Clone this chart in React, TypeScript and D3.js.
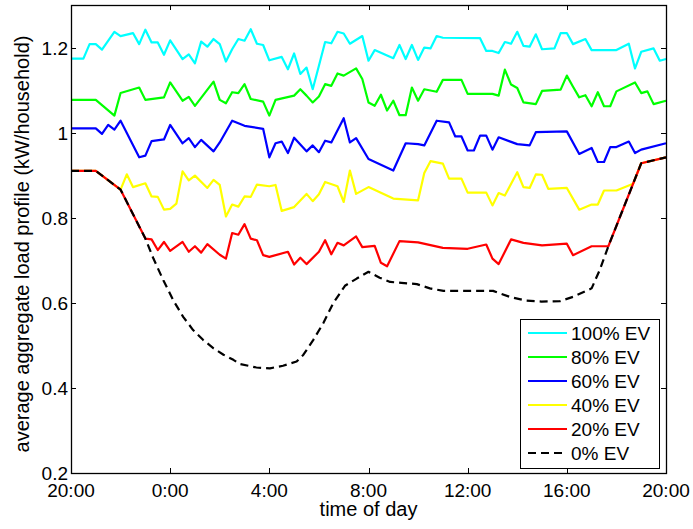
import React, { useEffect, useRef } from 'react'
import * as d3 from 'd3'

// x = quarter hours since 20:00, y = kW/household
const timeTicks = [0, 16, 32, 48, 64, 80, 96]
const timeLabels = ['20:00', '0:00', '4:00', '8:00', '12:00', '16:00', '20:00']
const loadTicks = [0.2, 0.4, 0.6, 0.8, 1, 1.2]

const seriesNames = ['100% EV', '80% EV', '60% EV', '40% EV', '20% EV', '0% EV']
const seriesColors = ['#00ffff', '#00ff00', '#0000ff', '#ffff00', '#ff0000', '#000000']

const ev100: [number, number][] = [[0,1.174],[2,1.174],[3,1.208],[4,1.208],[5,1.195],[7,1.237],[8,1.227],[10,1.234],[11,1.208],[12,1.242],[13,1.212],[14,1.212],[15,1.183],[16,1.217],[18,1.173],[19,1.184],[20,1.163],[21,1.214],[22,1.202],[23,1.220],[24,1.208],[25,1.167],[26,1.196],[27,1.220],[28,1.216],[29,1.243],[30,1.209],[31,1.206],[32,1.170],[34,1.178],[35,1.149],[36,1.186],[37,1.138],[38,1.153],[39,1.102],[40,1.157],[41,1.213],[42,1.210],[43,1.237],[44,1.233],[45,1.209],[47,1.227],[48,1.169],[49,1.194],[52,1.175],[53,1.206],[54,1.173],[55,1.206],[56,1.171],[57,1.200],[58,1.198],[59,1.227],[60,1.223],[66,1.222],[67,1.192],[68,1.192],[69,1.187],[70,1.213],[71,1.209],[72,1.237],[73,1.204],[74,1.202],[75,1.231],[76,1.196],[78,1.198],[79,1.234],[80,1.234],[81,1.208],[83,1.220],[84,1.194],[88,1.194],[90,1.209],[91,1.151],[92,1.190],[94,1.198],[95,1.169],[96,1.173]]

const ev80: [number, number][] = [[0,1.077],[4,1.077],[7,1.040],[8,1.093],[11,1.106],[12,1.077],[15,1.083],[16,1.118],[18,1.075],[19,1.084],[20,1.063],[23,1.120],[24,1.077],[25,1.069],[26,1.095],[27,1.093],[28,1.114],[29,1.079],[31,1.073],[32,1.040],[33,1.077],[36,1.087],[37,1.102],[38,1.087],[39,1.071],[40,1.085],[41,1.114],[42,1.110],[43,1.139],[44,1.134],[46,1.151],[47,1.126],[48,1.071],[49,1.063],[50,1.089],[51,1.052],[52,1.075],[53,1.041],[54,1.041],[55,1.106],[56,1.075],[57,1.102],[59,1.096],[60,1.124],[63,1.124],[64,1.091],[68,1.091],[69,1.087],[70,1.148],[71,1.113],[72,1.105],[73,1.071],[75,1.067],[76,1.098],[79,1.101],[80,1.134],[81,1.108],[82,1.083],[83,1.088],[84,1.062],[85,1.095],[86,1.062],[87,1.062],[88,1.097],[91,1.118],[92,1.093],[93,1.097],[94,1.067],[96,1.075]]

const ev60: [number, number][] = [[0,1.010],[4,1.010],[5,0.997],[6,1.018],[7,1.007],[8,1.028],[11,0.942],[12,0.946],[13,0.980],[15,0.984],[16,1.018],[18,0.975],[19,0.987],[20,0.966],[21,0.983],[23,0.956],[24,0.977],[26,1.028],[27,1.022],[28,1.016],[31,1.009],[32,0.942],[33,0.975],[34,0.979],[35,0.952],[36,0.988],[38,0.956],[39,0.970],[40,0.954],[41,0.981],[42,0.977],[44,1.034],[45,0.977],[46,0.987],[48,0.938],[52,0.911],[54,0.975],[56,0.973],[57,0.970],[59,1.028],[61,1.024],[62,0.991],[63,0.991],[64,0.958],[65,0.958],[66,0.993],[67,0.993],[68,0.960],[69,0.989],[72,0.973],[74,0.970],[75,1.001],[80,1.003],[82,0.950],[84,0.964],[85,0.931],[86,0.931],[87,0.966],[88,0.966],[90,0.979],[91,0.952],[92,0.960],[96,0.975]]

const ev40: [number, number][] = [[0,0.910],[4,0.910],[8,0.866],[9,0.902],[10,0.872],[12,0.881],[13,0.850],[14,0.849],[15,0.819],[16,0.821],[17,0.833],[18,0.909],[19,0.888],[20,0.899],[22,0.870],[23,0.889],[24,0.877],[25,0.803],[26,0.831],[27,0.826],[28,0.850],[29,0.849],[30,0.878],[32,0.874],[33,0.877],[34,0.816],[36,0.825],[38,0.856],[39,0.839],[40,0.855],[41,0.884],[43,0.874],[44,0.837],[45,0.911],[46,0.856],[48,0.872],[52,0.845],[56,0.841],[57,0.905],[58,0.933],[60,0.927],[61,0.892],[63,0.892],[64,0.859],[67,0.859],[68,0.829],[69,0.858],[70,0.852],[72,0.907],[73,0.872],[74,0.870],[75,0.902],[76,0.901],[77,0.868],[80,0.870],[82,0.819],[84,0.831],[85,0.831],[86,0.864],[88,0.864],[90.7,0.880],[92,0.928],[96,0.942]]

const ev20: [number, number][] = [[0,0.910],[4,0.910],[8,0.866],[12,0.751],[13,0.749],[14,0.724],[15,0.743],[16,0.722],[18,0.743],[19,0.720],[20,0.733],[21,0.718],[22,0.738],[24,0.713],[25,0.704],[26,0.764],[27,0.760],[28,0.785],[29,0.751],[30,0.747],[31,0.712],[32,0.708],[35,0.720],[36,0.690],[37,0.706],[38,0.691],[40,0.720],[41,0.747],[42,0.714],[43,0.741],[44,0.735],[46,0.756],[47,0.731],[49,0.734],[50,0.694],[51,0.686],[53,0.745],[56,0.742],[60,0.729],[64,0.727],[67,0.737],[68,0.704],[69,0.691],[71,0.749],[73,0.741],[76,0.735],[80,0.739],[81,0.712],[84,0.733],[86.7,0.733],[92,0.928],[96,0.942]]

const ev0: [number, number][] = [[0,0.910],[4,0.910],[8,0.866],[12,0.751],[13.3,0.704],[14.9,0.653],[16.5,0.606],[18.1,0.567],[19.7,0.536],[21.3,0.513],[23,0.493],[24.6,0.478],[26.2,0.466],[27.3,0.456],[29.9,0.448],[32.1,0.446],[34.2,0.452],[36.4,0.462],[37.5,0.478],[39.1,0.513],[40.7,0.552],[42.3,0.599],[44.2,0.640],[46.1,0.657],[48,0.673],[49.8,0.659],[51.5,0.649],[53.3,0.647],[55.8,0.644],[57.9,0.634],[60.1,0.628],[64.4,0.628],[68.1,0.628],[70.8,0.614],[73.5,0.605],[75.9,0.603],[78.9,0.604],[81,0.614],[84,0.634],[85.3,0.677],[86.7,0.733],[92,0.928],[96,0.942]]

const allSeries = [ev100, ev80, ev60, ev40, ev20, ev0]

const W = 693
const H = 529
const FONT = '"Liberation Sans", Arial, Helvetica, sans-serif'

export default function App() {
  const ref = useRef<SVGSVGElement>(null)

  useEffect(() => {
    const svg = d3.select(ref.current)
    svg.selectAll('*').remove()

    const left = 71, right = 666, top = 5, bottom = 473
    const x = d3.scaleLinear().domain([0, 96]).range([left, right])
    const y = d3.scaleLinear().domain([0.2, 1.3]).range([bottom, top])
    const tick = 5

    const g = svg.append('g')

    // ticks (inside, mirrored on top/right)
    const axes = g.append('g').attr('stroke', '#000').attr('stroke-width', 1)
    timeTicks.forEach((t) => {
      const px = Math.round(x(t)) + 0.5
      axes.append('line').attr('x1', px).attr('x2', px).attr('y1', bottom).attr('y2', bottom - tick)
      axes.append('line').attr('x1', px).attr('x2', px).attr('y1', top).attr('y2', top + tick)
    })
    loadTicks.forEach((v) => {
      const py = Math.round(y(v)) + 0.5
      axes.append('line').attr('x1', left).attr('x2', left + tick).attr('y1', py).attr('y2', py)
      axes.append('line').attr('x1', right).attr('x2', right - tick).attr('y1', py).attr('y2', py)
    })

    // series
    const line = d3
      .line<[number, number]>()
      .x((d) => x(d[0]))
      .y((d) => y(d[1]))

    allSeries.forEach((s, i) => {
      g.append('path')
        .attr('d', line(s))
        .attr('fill', 'none')
        .attr('stroke', seriesColors[i])
        .attr('stroke-width', 2.2)
        .attr('stroke-linejoin', 'round')
        .attr('stroke-dasharray', i === 5 ? '8,5' : null)
    })

    // frame
    g.append('rect')
      .attr('x', left + 0.5)
      .attr('y', top + 0.5)
      .attr('width', right - left)
      .attr('height', bottom - top)
      .attr('fill', 'none')
      .attr('stroke', '#000')
      .attr('stroke-width', 1.3)

    // tick labels
    g.selectAll('.xl')
      .data(timeTicks)
      .enter()
      .append('text')
      .attr('x', (d) => x(d))
      .attr('y', 497)
      .attr('text-anchor', 'middle')
      .attr('font-family', FONT)
      .attr('font-size', 19)
      .text((d, i) => timeLabels[i])

    g.selectAll('.yl')
      .data(loadTicks)
      .enter()
      .append('text')
      .attr('x', left - 3)
      .attr('y', (d) => y(d) + 7)
      .attr('text-anchor', 'end')
      .attr('font-family', FONT)
      .attr('font-size', 19)
      .text((d) => (d === 1 ? '1' : d.toFixed(1)))

    g.append('text')
      .attr('x', (left + right) / 2)
      .attr('y', 516)
      .attr('text-anchor', 'middle')
      .attr('font-family', FONT)
      .attr('font-size', 20)
      .text('time of day')

    g.append('text')
      .attr('transform', `translate(29, ${(top + bottom) / 2 + 5}) rotate(-90)`)
      .attr('text-anchor', 'middle')
      .attr('font-family', FONT)
      .attr('font-size', 20)
      .text('average aggregate load profile (kW/household)')

    // legend
    const lg = g.append('g')
    lg.append('rect')
      .attr('x', 520.5)
      .attr('y', 319.5)
      .attr('width', 139)
      .attr('height', 149)
      .attr('fill', '#fff')
      .attr('stroke', '#000')
      .attr('stroke-width', 1)
    seriesNames.forEach((name, i) => {
      const ry = 333 + i * 24
      lg.append('line')
        .attr('x1', 528)
        .attr('x2', 567)
        .attr('y1', ry)
        .attr('y2', ry)
        .attr('stroke', seriesColors[i])
        .attr('stroke-width', 2.2)
        .attr('stroke-dasharray', i === 5 ? '8,5' : null)
      lg.append('text')
        .attr('x', 571)
        .attr('y', ry + 7)
        .attr('font-family', FONT)
        .attr('font-size', 19)
        .text(name)
    })
  }, [])

  return (
    <svg
      ref={ref}
      width={W}
      height={H}
      style={{ position: 'absolute', left: 0, top: 0, background: '#fff' }}
    />
  )
}
